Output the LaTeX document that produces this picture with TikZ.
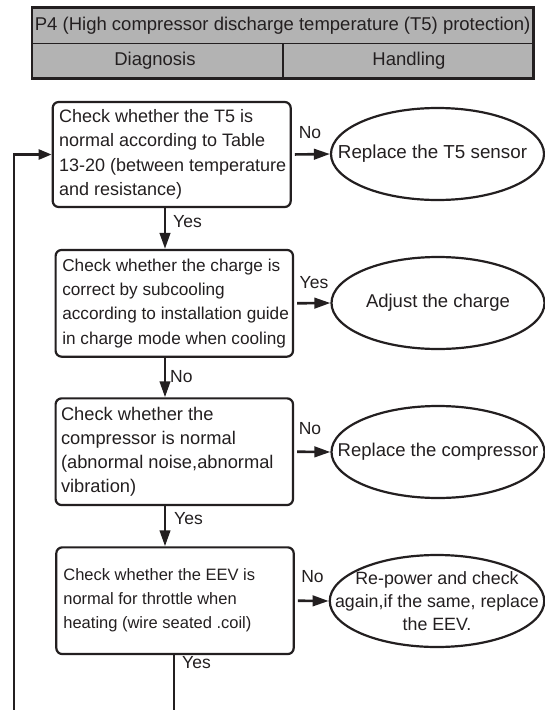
\documentclass[tikz,border=0pt]{standalone}
\usepackage{fontspec}
\setmainfont{Liberation Sans}
\usetikzlibrary{shapes.geometric,arrows.meta}
\definecolor{ink}{HTML}{231F20}
\definecolor{hdr}{HTML}{B3B3B3}
\begin{document}
\begin{tikzpicture}[x=1pt,y=-1pt,
  box/.style={draw=ink, line width=2.2pt, rounded corners=6pt, inner sep=0pt, minimum width=237.4pt, minimum height=106.7pt},
  boxtext/.style={align=left, text=ink, inner sep=0pt, anchor=west},
  oval/.style={ellipse, draw=ink, line width=2.2pt, inner sep=0pt, minimum width=213pt, minimum height=92pt},
  ovaltext/.style={align=center, text=ink, inner sep=0pt},
  arr/.style={draw=ink, line width=2.6pt, -{Triangle[length=16pt,width=10.5pt]}},
  fbarr/.style={draw=ink, line width=2.6pt, -{Triangle[length=13pt,width=10pt]}},
  plain/.style={draw=ink, line width=2.6pt},
  lbl/.style={text=ink, font=\fontsize{17.5}{20}\selectfont, inner sep=0pt},
  hdrtext/.style={text=ink, font=\fontsize{18.5}{20}\selectfont, inner sep=0pt},
]
\path[fill=white, use as bounding box] (0,0) rectangle (545,710);

% header table
\fill[hdr] (32,7.3) rectangle (533.5,78.3);
\draw[ink, line width=1.5pt] (32,43.3) -- (533.5,43.3) (283,43.3) -- (283,78.3);
\draw[ink, line width=2.7pt] (32,7.3) rectangle (533.5,78.3);
\node[hdrtext] (title) at (282.7,25.6) {P4 (High compressor discharge temperature (T5) protection)};
\node[hdrtext] (diag) at (155,61) {Diagnosis};
\node[hdrtext] (hand) at (409,61) {Handling};

% column coordinates
\coordinate (colA) at (165,0);
\coordinate (colB) at (174,0);
\coordinate (fb) at (14,710);
\coordinate (bot) at (174,710);

% decision boxes
\node[box, minimum width=238pt, minimum height=105pt] (b1) at (171.7,154.5) {};
\node[boxtext, font=\fontsize{18}{24.5}\selectfont] (b1t) at ([xshift=7.3pt]b1.west)
  {Check whether the T5 is\\normal according to Table\\13-20 (between temperature\\and resistance)};
\node[box] (b2) at (174.3,303.3) {};
\node[boxtext, font=\fontsize{17.2}{24.2}\selectfont] (b2t) at ([xshift=7.6pt]b2.west)
  {Check whether the charge is\\correct by subcooling\\according to installation guide\\in charge mode when cooling};
\node[box] (b3) at (174.3,451.7) {};
\node[boxtext, font=\fontsize{18.3}{24}\selectfont] (b3t) at ([xshift=6.3pt]b3.west)
  {Check whether the\\compressor is normal\\(abnormal noise,abnormal\\vibration)};
\node[box] (b4) at (175,600.7) {};
\node[boxtext, font=\fontsize{16.5}{24}\selectfont] (b4t) at ([xshift=8pt]b4.west)
  {Check whether the EEV is\\normal for throttle when\\heating (wire seated .coil)};

% result ellipses
\node[oval] (e1) at (437.5,154) {};
\node[ovaltext, font=\fontsize{18.8}{22}\selectfont] (e1t) at ([xshift=-5pt]e1.center) {Replace the T5 sensor};
\node[oval] (e2) at (438,303) {};
\node[ovaltext, font=\fontsize{18.5}{22}\selectfont] (e2t) at (e2.center) {Adjust the charge};
\node[oval] (e3) at (438,452) {};
\node[ovaltext, font=\fontsize{18.5}{22}\selectfont] (e3t) at (e3.center) {Replace the compressor};
\node[oval, minimum width=214.5pt] (e4) at (437,601) {};
\node[ovaltext, font=\fontsize{17.8}{23.3}\selectfont] (e4t) at (e4.center) {Re-power and check\\again,if the same, replace\\the EEV.};

% horizontal arrows
\draw[arr, shorten <=3pt] (b1.east) -- (e1.west);
\draw[arr, shorten <=3pt] (b2.east) -- (e2.west);
\draw[arr, shorten <=3pt] (b3.east) -- (e3.west);
\draw[arr, shorten <=3pt] (b4.east) -- (e4.west);
\node[lbl] (n1) at (310,133) {No};
\node[lbl] (y2) at (314,282.7) {Yes};
\node[lbl] (n3) at (310,428.5) {No};
\node[lbl] (n4) at (312.5,577) {No};

% vertical arrows
\draw[arr] (b1.south -| colA) -- (b2.north -| colA);
\draw[arr] (b2.south -| colA) -- (b3.north -| colA);
\draw[arr] (b3.south -| colA) -- (b4.north -| colA);
\draw[plain] (b4.south -| colB) -- (bot);
\node[lbl, anchor=west] (y1) at (173,222) {Yes};
\node[lbl, anchor=west] (n2) at (170,377) {No};
\node[lbl, anchor=west] (y3) at (174,518.5) {Yes};
\node[lbl, anchor=west] (y4) at (182,663) {Yes};

% feedback loop
\draw[fbarr] (fb) |- (b1.west);
\end{tikzpicture}
\end{document}
